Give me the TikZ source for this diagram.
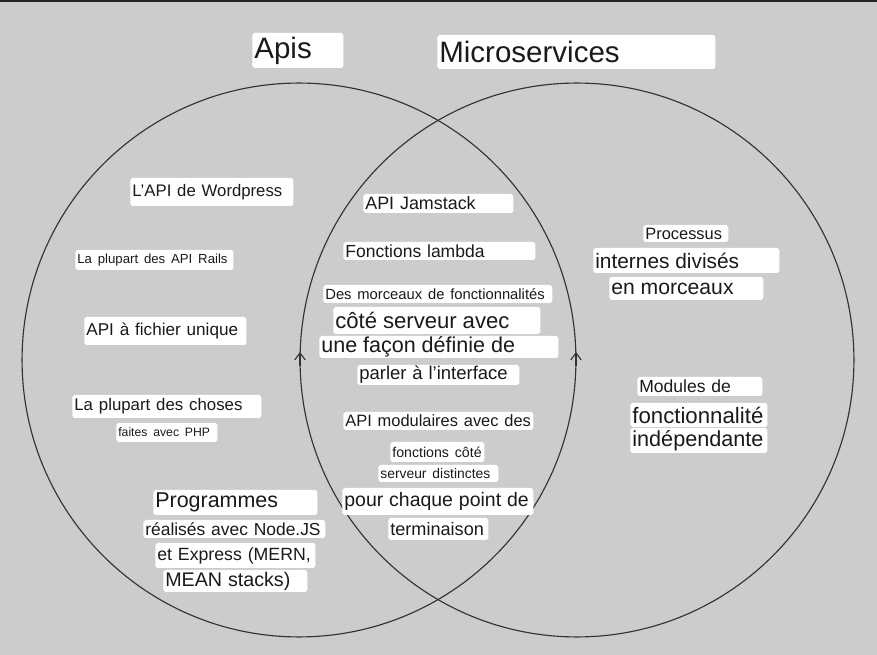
\documentclass[tikz,border=0pt]{standalone}
\usepackage{fontspec}
\setmainfont{Liberation Sans}
\usepackage{xcolor}
\usepackage{tikz}
\usetikzlibrary{arrows.meta}

\definecolor{bggray}{HTML}{CCCCCC}
\definecolor{topbar}{HTML}{222222}
\definecolor{ink}{HTML}{1A1A1A}
\definecolor{rim}{HTML}{333333}

% font size given in pixels of the reference
\newcommand\pxfont[1]{\fontsize{\fpeval{#1*0.56}pt}{\fpeval{#1*0.66}pt}\selectfont}

\tikzset{
  lbl/.style 2 args={/utils/exec={\pgfmathsetlengthmacro\lblw{#1*0.02cm-0.08cm}},
    fill=white, rounded corners=1.1pt, text=ink, anchor=west, align=left,
    inner xsep=0.04cm, inner ysep=0pt, text width=\lblw, minimum height=#2*0.02cm},
  ring/.style={draw=rim, line width=0.65pt},
  tip/.style={ring, -{Straight Barb[length=4pt,width=6pt]}}
}

\begin{document}
\begin{tikzpicture}[x=0.02cm,y=-0.02cm]
\useasboundingbox (0,0) rectangle (877,655);
\fill[bggray] (0,0) rectangle (877,655);
\fill[topbar] (0,0) rectangle (877,2.5);

% the two sets
\coordinate (capi) at (299,360);
\coordinate (cmicro) at (577,360);
\draw[ring] (capi) circle[radius=5.54cm];
\draw[ring] (cmicro) circle[radius=5.54cm];
\coordinate (tipapi) at (576,352);
\coordinate (tipmicro) at (300,352);
\draw[tip] (576,366) -- (tipapi);
\draw[tip] (300,366) -- (tipmicro);

% titles
\node[lbl={91}{35}] (apis) at (252,50.5) {\mbox{\pxfont{30}Apis}};
\node[lbl={278}{34}] (micro) at (437,52) {\mbox{\pxfont{30}Microservices}};

% Apis only
\node[lbl={163}{28}] (wordpress) at (130,192) {\mbox{\pxfont{17}L'API de Wordpress}};
\node[lbl={158}{20}] (rails) at (75,260) {\mbox{\pxfont{13.4}La plupart des API Rails}};
\node[lbl={162}{28}] (fichier) at (84,331) {\mbox{\pxfont{17.4}API à fichier unique}};
\node[lbl={189}{23}] (choses) at (72,406.5) {\mbox{\pxfont{17.1}La plupart des choses}};
\node[lbl={101}{19}] (php) at (116,432.5) {\mbox{\pxfont{12.4}faites avec PHP}};
\node[lbl={164}{25}] (prog) at (153,502.5) {\mbox{\pxfont{21.8}Programmes}};
\node[lbl={182}{18}] (nodejs) at (143,529) {\mbox{\pxfont{17.7}réalisés avec Node.JS}};
\node[lbl={160}{25}] (express) at (155,555.5) {\mbox{\pxfont{18}et Express (MERN,}};
\node[lbl={144}{22}] (mean) at (163,581) {\mbox{\pxfont{20}MEAN stacks)}};

% both
\node[lbl={150}{19}] (jamstack) at (363,203.5) {\mbox{\pxfont{18.2}API Jamstack}};
\node[lbl={192}{18}] (lambda) at (343,251) {\mbox{\pxfont{17.8}Fonctions lambda}};
\node[lbl={229}{18}] (morceaux) at (323,294) {\mbox{\pxfont{15}Des morceaux de fonctionnalités}};
\node[lbl={207}{27}] (cote) at (333,320.5) {\mbox{\pxfont{22.5}côté serveur avec}};
\node[lbl={239}{22}] (facon) at (319,347) {\mbox{\pxfont{21.9}une façon définie de}};
\node[lbl={162}{20}] (parler) at (357,375) {\mbox{\pxfont{18.8}parler à l'interface}};
\node[lbl={190}{18}] (modul) at (343,421) {\mbox{\pxfont{16.7}API modulaires avec des}};
\node[lbl={94}{20}] (fonccote) at (390,452) {\mbox{\pxfont{14.4}fonctions côté}};
\node[lbl={120}{17}] (distinct) at (378,473.5) {\mbox{\pxfont{14.1}serveur distinctes}};
\node[lbl={191}{27}] (point) at (342,501.5) {\mbox{\pxfont{19.8}pour chaque point de}};
\node[lbl={100}{22}] (termin) at (388,529) {\mbox{\pxfont{18.4}terminaison}};

% Microservices only
\node[lbl={85}{17}] (processus) at (643,233.5) {\mbox{\pxfont{16.7}Processus}};
\node[lbl={186}{25}] (divises) at (593,260.5) {\mbox{\pxfont{21.2}internes divisés}};
\node[lbl={154}{23}] (enmorc) at (609,288.5) {\mbox{\pxfont{21.5}en morceaux}};
\node[lbl={125}{19}] (modules) at (637,386.5) {\mbox{\pxfont{17.8}Modules de}};
\node[lbl={137}{24}] (fonctio) at (630,415) {\mbox{\pxfont{22.6}fonctionnalité}};
\node[lbl={137}{25}] (indep) at (630,440.5) {\mbox{\pxfont{22}indépendante}};
\end{tikzpicture}
\end{document}
